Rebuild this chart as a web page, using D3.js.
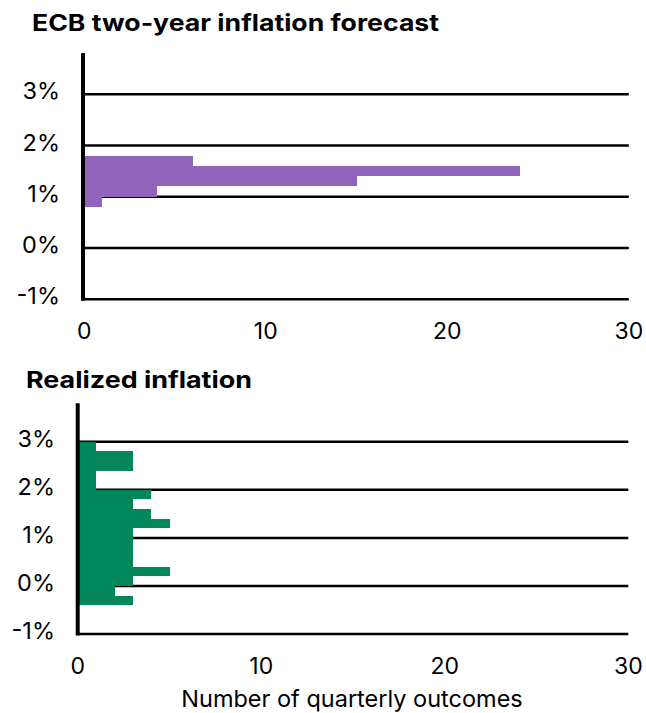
<!DOCTYPE html>
<html>
<head>
<meta charset="utf-8">
<script src="https://cdn.jsdelivr.net/npm/d3@7"></script>
<style>
  html, body { margin: 0; padding: 0; background: #fff; }
  svg { display: block; }
  text { font-family: Inter, "Noto Sans", sans-serif; fill: #000; }
</style>
</head>
<body>
<svg id="chart" width="646" height="713"></svg>
<script>
// ---- data ----
const yTicks = [-1, 0, 1, 2, 3];
const xTicks = [0, 10, 20, 30];
const binWidth = 0.2;
// lower edge of each 0.2-pt inflation bin (%)
const forecastBins = [0.8, 1.0, 1.2, 1.4, 1.6];
const forecastCounts = [1, 4, 15, 24, 6];
const realizedBins = [-0.4, -0.2, 0.0, 0.2, 0.4, 0.6, 0.8, 1.0, 1.2, 1.4, 1.6, 1.8, 2.0, 2.2, 2.4, 2.6, 2.8];
const realizedCounts = [3, 2, 3, 5, 3, 3, 3, 3, 5, 4, 3, 4, 1, 1, 3, 3, 1];
const titles = ["ECB two-year inflation forecast", "Realized inflation"];
const xAxisTitle = "Number of quarterly outcomes";

const svg = d3.select("#chart");

function panel(cfg) {
  const x = d3.scaleLinear().domain([0, 30]).range(cfg.xRange);
  const y = d3.scaleLinear().domain([-1, 3.8]).range(cfg.yRange);
  const g = svg.append("g");

  g.append("text")
    .attr("x", cfg.titleX).attr("y", cfg.titleY)
    .attr("font-weight", 700).attr("font-size", 23)
    .attr("textLength", cfg.titleLen).attr("lengthAdjust", "spacingAndGlyphs")
    .text(cfg.title);

  // gridlines
  g.selectAll(".grid").data(yTicks).join("line")
    .attr("x1", x(0)).attr("x2", x(30))
    .attr("y1", d => y(d)).attr("y2", d => y(d))
    .attr("stroke", "#000").attr("stroke-width", 2.5);

  // bars
  const data = cfg.bins.map((b, i) => ({ lo: b, n: cfg.counts[i] }));
  g.selectAll(".bar").data(data).join("rect")
    .attr("x", x(0))
    .attr("y", d => y(d.lo + binWidth))
    .attr("width", d => x(d.n) - x(0))
    .attr("height", d => y(d.lo) - y(d.lo + binWidth))
    .attr("fill", cfg.color)
    .attr("shape-rendering", "crispEdges");

  // y axis line
  g.append("line")
    .attr("x1", cfg.axisX).attr("x2", cfg.axisX)
    .attr("y1", y(3.8)).attr("y2", y(-1) + 1.5)
    .attr("stroke", "#000").attr("stroke-width", 4);

  // y tick labels
  g.selectAll(".yl").data(yTicks).join("text")
    .attr("x", cfg.yLabelX).attr("y", d => y(d))
    .attr("dy", "0.22em")
    .attr("text-anchor", "end")
    .attr("font-size", 23.5)
    .text(d => d + "%");

  // x tick labels
  g.selectAll(".xl").data(xTicks).join("text")
    .attr("x", d => x(d)).attr("y", cfg.xLabelY)
    .attr("dy", "0.36em")
    .attr("text-anchor", "middle")
    .attr("font-size", 23)
    .text(d => d);
  return { x, y };
}

panel({
  title: titles[0], titleX: 32, titleY: 31, titleLen: 407,
  xRange: [84.3, 628.8], yRange: [299.3, 53.1], axisX: 83,
  bins: forecastBins, counts: forecastCounts, color: "#9164bb",
  yLabelX: 60, xLabelY: 331
});

const p2 = panel({
  title: titles[1], titleX: 26, titleY: 388, titleLen: 226,
  xRange: [77.8, 628.3], yRange: [634.1, 403.2], axisX: 77.7,
  bins: realizedBins, counts: realizedCounts, color: "#02875d",
  yLabelX: 55, xLabelY: 666
});

svg.append("text")
  .attr("x", (p2.x(0) + p2.x(30)) / 2 - 1).attr("y", 707)
  .attr("text-anchor", "middle")
  .attr("font-size", 23.5)
  .text(xAxisTitle);
</script>
</body>
</html>
